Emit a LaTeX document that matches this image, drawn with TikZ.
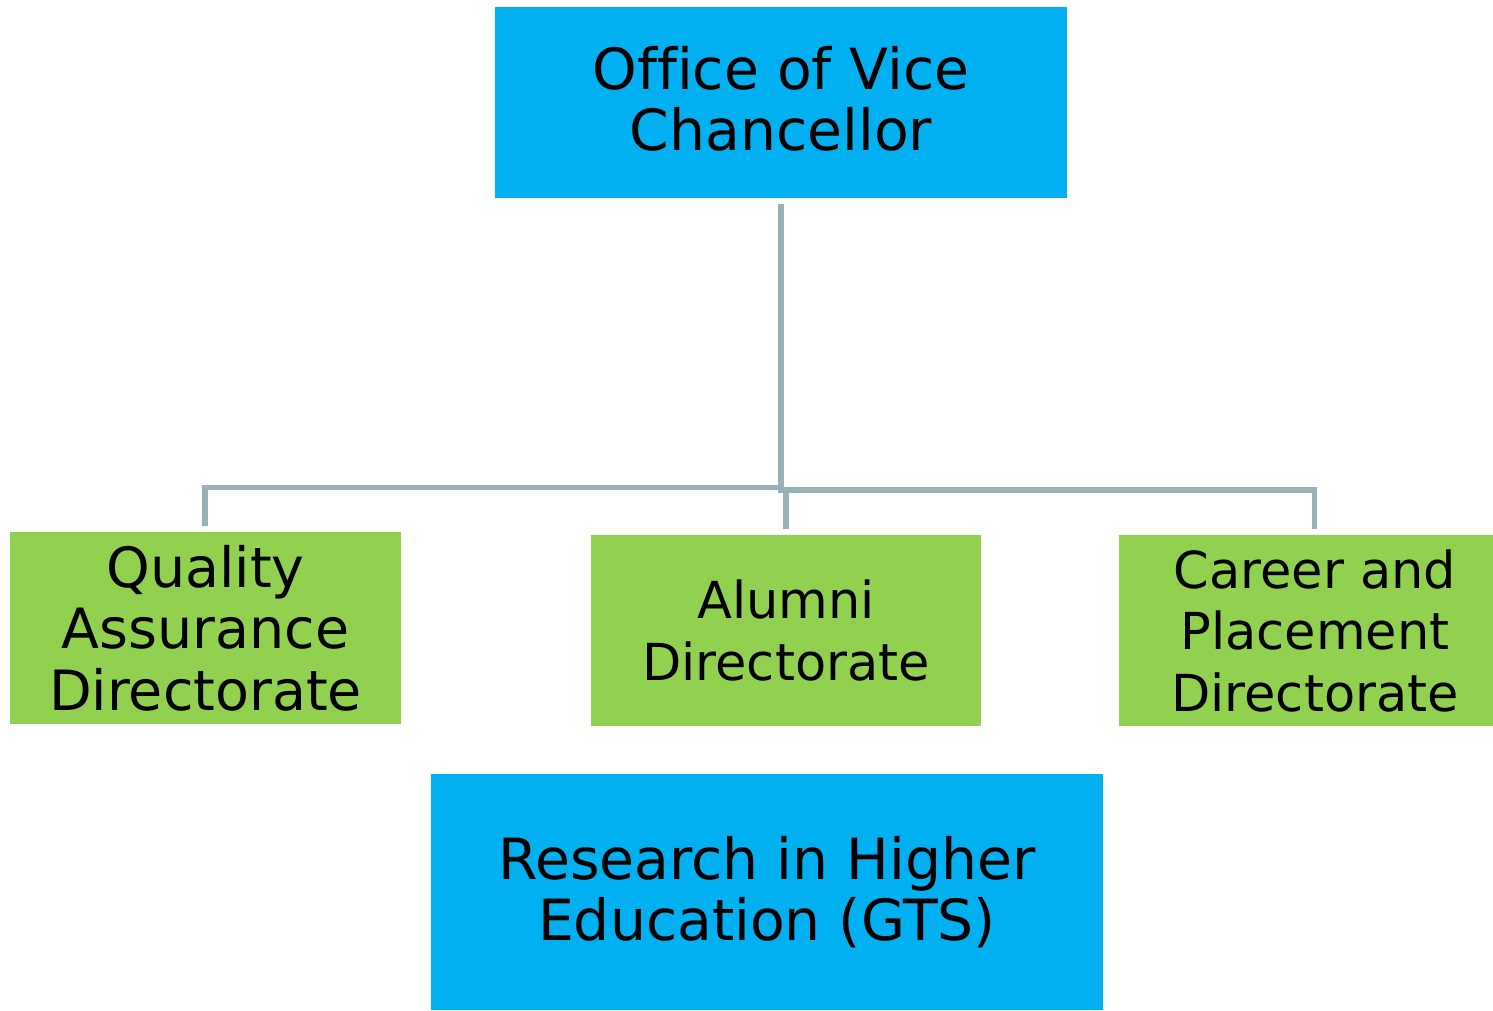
\documentclass[tikz,border=0pt]{standalone}
\usepackage{fontspec}
\setmainfont{DejaVu Sans}[Ligatures=NoCommon]
\definecolor{boxblue}{RGB}{0,176,240}
\definecolor{boxgreen}{RGB}{146,208,80}
\definecolor{connc}{RGB}{151,177,182}
\begin{document}
\begin{tikzpicture}[x=1pt,y=-1pt,
  box/.style={draw=none,inner sep=0pt,align=center,text=black},
  bluebox/.style={box,fill=boxblue,font=\fontsize{56.8}{61}\selectfont},
  greenbox/.style={box,fill=boxgreen,font=\fontsize{51}{61.5}\selectfont},
  conn/.style={draw=connc,line width=5.5pt}]
\useasboundingbox (0,0) rectangle (1493,1010);
\node[bluebox,minimum width=572pt,minimum height=191pt] (vc) at (781,102.5) {Office of Vice\\Chancellor\rule[-8pt]{0pt}{8pt}};
\node[greenbox,minimum width=391pt,minimum height=192pt,font=\fontsize{55.5}{61.5}\selectfont] (qa) at (205.5,628) {Quality\\Assurance\\Directorate};
\node[greenbox,minimum width=390pt,minimum height=191pt] (al) at (786,630.5) {Alumni\\Directorate};
\node[greenbox,minimum width=392pt,minimum height=191pt] (cp) at (1315,630.5) {Career and\\Placement\\Directorate};
\node[bluebox,minimum width=672pt,minimum height=236pt] (rh) at (767,892) {Research in Higher\\Education (GTS)};
\coordinate (hub) at ([yshift=-6pt]vc.south);
\draw[conn] (hub) -- (781,487.5) -| ([xshift=-0.5pt,yshift=6pt]qa.north);
\draw[conn] (hub) -- (781,490) -| ([yshift=6pt]al.north);
\draw[conn] (hub) -- (781,490) -| ([xshift=-0.5pt,yshift=6pt]cp.north);
\end{tikzpicture}
\end{document}
